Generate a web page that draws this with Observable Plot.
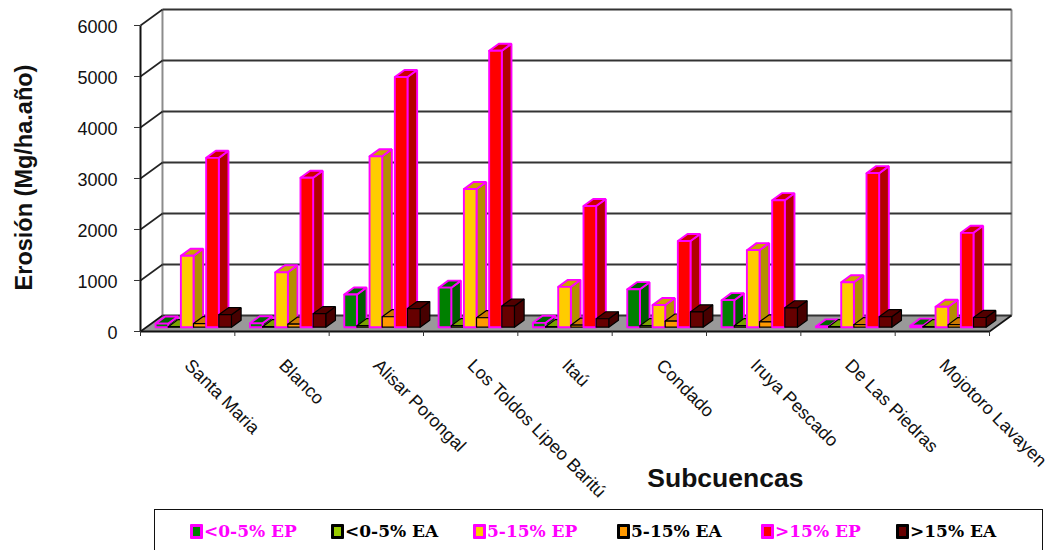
<!DOCTYPE html>
<html>
<head>
<meta charset="utf-8">
<script src="https://cdn.jsdelivr.net/npm/d3@7"></script>
<script src="https://cdn.jsdelivr.net/npm/@observablehq/plot@0.6"></script>
<style>
  html, body { margin: 0; padding: 0; background: #fff; overflow: hidden; }
  #chart svg { display: block; }
  #legend {
    position: absolute; left: 154px; top: 509px; width: 889px; height: 60px;
    border: 1px solid #111; box-sizing: border-box;
  }
  .item {
    position: absolute; top: 12px; display: flex; align-items: center;
    font: bold 17px "DejaVu Serif", serif; white-space: nowrap; line-height: 18px;
  }
  .swatch { width: 7px; height: 9px; border-width: 3px; border-style: solid; margin-right: 1px; border-radius: 1px; }
</style>
</head>
<body>
<div id="chart"></div>
<div id="legend"></div>
<script>
// Subcatchment names along the floor of the chart
const basins = ["Santa Maria", "Blanco", "Alisar Porongal", "Los Toldos Lipeo Baritú", "Itaú", "Condado", "Iruya Pescado", "De Las Piedras", "Mojotoro Lavayen"];

// Erosion per slope class, Mg/ha.año (EP = potential, EA = actual)
const low_EP  = [70, 75, 640, 775, 85, 745, 530, 15, 30];
const low_EA  = [10, 10, 30, 30, 10, 30, 30, 10, 10];
const mid_EP  = [1400, 1075, 3350, 2710, 790, 435, 1510, 880, 400];
const mid_EA  = [70, 60, 205, 185, 40, 120, 105, 50, 50];
const high_EP = [3320, 2930, 4905, 5420, 2375, 1690, 2490, 3020, 1850];
const high_EA = [245, 265, 365, 415, 165, 300, 380, 205, 190];

const yTicks = [0, 1000, 2000, 3000, 4000, 5000, 6000];

const seriesNames  = ["<0-5% EP", "<0-5% EA", "5-15% EP", "5-15% EA", ">15% EP", ">15% EA"];
const seriesValues = [low_EP, low_EA, mid_EP, mid_EA, high_EP, high_EA];
const frontColors  = ["#008000", "#99cc00", "#ffcc00", "#ff9900", "#ff0000", "#660000"];
const sideColors   = ["#005a00", "#6b8f00", "#b38f00", "#b36b00", "#b30000", "#470000"];
const topColors    = ["#006600", "#7aa300", "#cca300", "#cc7a00", "#cc0000", "#520000"];
const edgeColors   = ["#ff00ff", "#000000", "#ff00ff", "#000000", "#ff00ff", "#000000"];
const edgeWidths   = [1.9, 1.2, 1.9, 1.2, 1.9, 1.2];

// Oblique projection: how far the depth axis shifts in category units and in value units
const depthX = 0.233;
const depthY = 313.7;
const yMax = 6000;
const n = basins.length;

// Bar placement inside a category and inside the floor depth
const barStart = 0.16;
const barWidth = 0.134;
const barLift = 0.27;
const barDepth = 0.44;

// Each bar becomes three closed polygons: side, top and front, painted in that order
const faces = [];
basins.forEach((_, i) => {
  seriesValues.forEach((values, s) => {
    const v = values[i];
    const x0 = i + barStart + s * barWidth;
    const x1 = x0 + barWidth;
    const y0 = barLift * depthY;
    const y1 = y0 + v;
    const dx = barDepth * depthX;
    const dy = barDepth * depthY;
    const add = (face, fill, pts) => pts.forEach(([x, y]) =>
      faces.push({id: `${i}-${s}-${face}`, x, y, fill, edge: edgeColors[s], weight: edgeWidths[s]}));
    add("side", sideColors[s], [[x1, y0], [x1 + dx, y0 + dy], [x1 + dx, y1 + dy], [x1, y1], [x1, y0]]);
    add("top", topColors[s], [[x0, y1], [x1, y1], [x1 + dx, y1 + dy], [x0 + dx, y1 + dy], [x0, y1]]);
    add("front", frontColors[s], [[x0, y0], [x1, y0], [x1, y1], [x0, y1], [x0, y0]]);
  });
});

const floorShape = [[0, 0], [n, 0], [n + depthX, depthY], [depthX, depthY], [0, 0]].map(([x, y]) => ({x, y}));
const grid = yTicks.filter(v => v > 0);

const chart = Plot.plot({
  width: 1050,
  height: 505,
  marginLeft: 140,
  marginRight: 39,
  marginTop: 9,
  marginBottom: 174,
  x: {domain: [0, n + depthX], axis: null},
  y: {domain: [0, yMax + depthY], axis: null},
  color: {type: "identity"},
  style: {background: "#fff", overflow: "visible"},
  marks: [
    // Floor of the box
    Plot.line(floorShape, {x: "x", y: "y", fill: "#999999", stroke: "none"}),
    // Vertical edges of the back wall
    Plot.link([depthX, n + depthX], {x1: d => d, x2: d => d, y1: depthY, y2: yMax + depthY, stroke: "#8c8c8c", strokeWidth: 2}),
    // Gridlines on the back wall, and their continuation down the left wall
    Plot.link(grid, {x1: depthX, x2: n + depthX, y1: d => d + depthY, y2: d => d + depthY, stroke: "#333", strokeWidth: 2}),
    Plot.link(grid, {x1: 0, x2: depthX, y1: d => d, y2: d => d + depthY, stroke: "#222", strokeWidth: 1.6}),
    // Back edge and sides of the floor
    Plot.link([0], {x1: depthX, x2: n + depthX, y1: depthY, y2: depthY, stroke: "#333", strokeWidth: 2}),
    Plot.link([0], {x1: 0, x2: depthX, y1: 0, y2: depthY, stroke: "#111", strokeWidth: 1.6}),
    Plot.link([0], {x1: n, x2: n + depthX, y1: 0, y2: depthY, stroke: "#111", strokeWidth: 1.6}),
    // Value axis and category axis
    Plot.link([0], {x1: 0, x2: 0, y1: 0, y2: yMax, stroke: "#111", strokeWidth: 2}),
    Plot.link([0], {x1: 0, x2: n, y1: 0, y2: 0, stroke: "#111", strokeWidth: 2.2}),
    Plot.axisY({
      ticks: yTicks, tickSize: 6, tickFormat: () => "", label: null, color: "#333", anchor: "left"
    }),
    // Tick labels sit slightly below their ticks
    Plot.axisY({
      ticks: yTicks, tickSize: 0, tickPadding: 23, dy: 2, fontSize: 18, tickFormat: "d", marginLeft: 140,
      fontFamily: "Liberation Sans", label: null, color: "#111", anchor: "left"
    }),
    Plot.axisX({
      ticks: d3.range(n + 1), tickSize: 5, tickFormat: () => "", label: null, color: "#333", anchor: "bottom"
    }),
    // Bars
    Plot.line(faces, {
      x: "x", y: "y", z: "id", fill: "fill", stroke: "edge", strokeWidth: "weight",
      strokeLinejoin: "miter", curve: "linear"
    }),
    // Category names, slanted down to the right
    Plot.text(basins, {
      x: (_, i) => i + 0.5, y: () => 0, text: d => d, rotate: 45, textAnchor: "start", lineAnchor: "middle",
      dx: 0, dy: 31, fontSize: 18, fontFamily: "Liberation Sans", fill: "#111"
    }),
    // Axis titles
    Plot.text(["Erosión (Mg/ha.año)"], {
      frameAnchor: "left", rotate: -90, textAnchor: "middle", dx: -116, dy: 7,
      fontSize: 23.5, fontWeight: "bold", fontFamily: "Liberation Sans", fill: "#111"
    }),
    Plot.text(["Subcuencas"], {
      x: () => 6.2, y: () => 0, dy: 147,
      fontSize: 26.5, fontWeight: "bold", fontFamily: "Liberation Sans", fill: "#111"
    })
  ]
});
document.getElementById("chart").append(chart);

// Legend strip under the chart
const legendLeft = [35, 176, 318, 462, 606, 741];
const legend = document.getElementById("legend");
seriesNames.forEach((name, s) => {
  const item = document.createElement("div");
  item.className = "item";
  item.style.left = legendLeft[s] + "px";
  item.style.color = edgeColors[s] === "#ff00ff" ? "#ff00ff" : "#000";
  const swatch = document.createElement("span");
  swatch.className = "swatch";
  swatch.style.background = frontColors[s];
  swatch.style.borderColor = edgeColors[s];
  item.append(swatch, document.createTextNode(name));
  legend.append(item);
});
</script>
</body>
</html>
